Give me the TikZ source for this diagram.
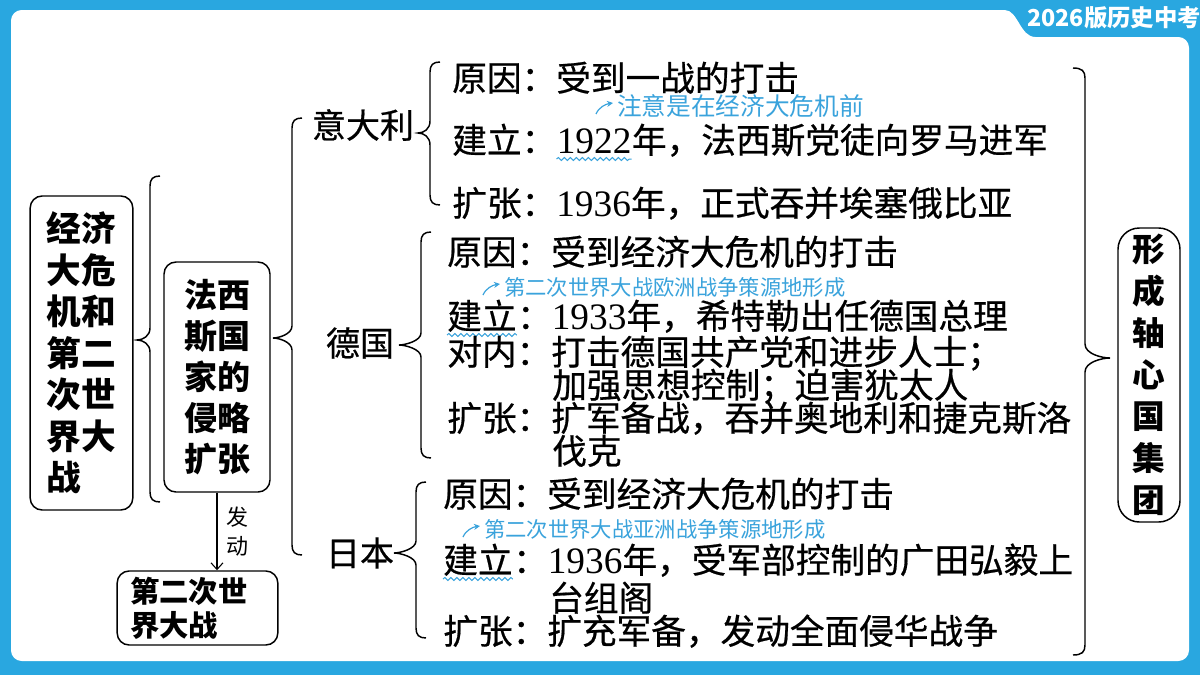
\documentclass[tikz,border=0pt]{standalone}
\usepackage{fontspec}
\usepackage{tikz}
\usetikzlibrary{calc,arrows.meta,decorations.pathmorphing}
\setmainfont{Noto Sans CJK SC}
\newfontfamily\zwfont{Noto Sans CJK SC}[FakeBold=0.6]
\newfontfamily\szfont{Liberation Serif}
\newcommand\yr[1]{{\szfont\fontsize{28pt}{26pt}\selectfont #1}}
\definecolor{lanse}{HTML}{29A7E0}
\definecolor{bizi}{HTML}{3AA3DC}

\tikzset{
  kuang/.style={draw, line width=1.1pt, rounded corners=9pt, inner sep=0pt, align=left},
  kuohao/.style={draw, line width=1.1pt},
  item/.style={anchor=base west, inner sep=0pt, font=\zwfont\fontsize{26pt}{26pt}\selectfont},
  guo/.style={inner sep=0pt, font=\zwfont\fontsize{25.5pt}{26pt}\selectfont},
  pizhu/.style={anchor=west, inner sep=0pt, text=bizi},
  gou/.style={bizi, line width=0.9pt, -{Stealth[length=4.5pt,width=4.5pt]}},
  bolang/.style={bizi, line width=0.75pt, decorate, decoration={snake, amplitude=1.1pt, segment length=4.5pt}},
}

% left brace: x, top, bottom, tip x, tip y
\newcommand\zkh[5]{\draw[kuohao] (#1+10,#2) .. controls (#1+3,#2) and (#1,#2+3) .. (#1,#2+10)
  -- (#1,#5-12) .. controls (#1,#5-4) and (#4+6,#5) .. (#4,#5)
  .. controls (#4+6,#5) and (#1,#5+4) .. (#1,#5+12)
  -- (#1,#3-10) .. controls (#1,#3-3) and (#1+3,#3) .. (#1+10,#3);}
% right brace
\newcommand\ykh[5]{\draw[kuohao] (#1-12,#2) .. controls (#1-3,#2) and (#1,#2+3) .. (#1,#2+10)
  -- (#1,#5-14) .. controls (#1,#5-4) and (#4-8,#5) .. (#4,#5)
  .. controls (#4-8,#5) and (#1,#5+4) .. (#1,#5+14)
  -- (#1,#3-10) .. controls (#1,#3-3) and (#1-3,#3) .. (#1-12,#3);}
% hook arrow before a note
\newcommand\gou[1]{\draw[gou] ($(#1.west)+(-21,8)$) .. controls +(3,-7) and +(-7,1) .. ($(#1.west)+(-4,-3)$);}

\begin{document}
\begin{tikzpicture}[x=0.75pt,y=-0.75pt,>={Straight Barb[length=5pt,width=9pt]}]
  \useasboundingbox (0,0) rectangle (1200,675);
  \fill[lanse] (0,0) rectangle (1200,675);
  \fill[white, rounded corners=8pt] (11,10) -- (994,10) .. controls (1018,10) and (1020,37) .. (1046,37)
    -- (1189,37) -- (1189,661) -- (11,661) -- cycle;
  \node[text=white, inner sep=0pt, font=\bfseries\fontsize{17.5pt}{17pt}\selectfont] (ban) at (1114,18) {2026版历史中考};

  % boxes
  \node[kuang, minimum width=77pt, minimum height=235.5pt, font=\bfseries\fontsize{26pt}{31.1pt}\selectfont] (jjwj) at (81.5,353)
    {经济\\大危\\机和\\第二\\次世\\界大\\战};
  \node[kuang, minimum width=79.5pt, minimum height=172.5pt, font=\bfseries\fontsize{24.75pt}{30.75pt}\selectfont] (fxs) at (217,377)
    {法西\\斯国\\家的\\侵略\\扩张};
  \node[kuang, rounded corners=16pt, minimum width=46.5pt, minimum height=220.5pt, font=\bfseries\fontsize{24.5pt}{31.3pt}\selectfont] (zxg) at (1149,375)
    {形\\成\\轴\\心\\国\\集\\团};
  \node[kuang, text width=101pt, inner xsep=9.75pt, minimum height=55.5pt, font=\bfseries\fontsize{22pt}{25.5pt}\selectfont] (ww2) at (197.5,608)
    {第二次世\\界大战};
  \draw[->, line width=0.8pt] (fxs.south) -- (fxs.south |- ww2.north)
    node[midway, right=7pt, inner sep=0pt, align=center, font=\fontsize{16.5pt}{21.75pt}\selectfont] (fd) {发\\动};

  % countries
  \node[guo] (yi) at (363,125) {意大利};
  \node[guo] (de) at (360,343) {德国};
  \node[guo] (ri) at (360,553) {日本};

  % Italy
  \node[item] (yi-yy) at (452,91) {原因：受到一战的打击};
  \node[item] (yi-jl) at (452,153) {建立：};
  \node[item] (yi-jl-n) at (yi-jl.base east) {\yr{1922}};
  \node[item] (yi-jl-t) at (yi-jl-n.base east) {年，法西斯党徒向罗马进军};
  \node[item] (yi-kz) at (452,216) {扩张：\yr{1936}年，正式吞并埃塞俄比亚};
  \node[pizhu, font=\fontsize{18.5pt}{18.5pt}\selectfont] (yi-pz) at (617,106) {注意是在经济大危机前};
  \gou{yi-pz}
  \draw[bolang] ([yshift=-4.5pt]yi-jl-n.base west) -- ([yshift=-4.5pt]yi-jl-n.base east);

  % Germany
  \node[item] (de-yy) at (447,265) {原因：受到经济大危机的打击};
  \node[pizhu, font=\fontsize{16pt}{16pt}\selectfont] (de-pz) at (504,287) {第二次世界大战欧洲战争策源地形成};
  \gou{de-pz}
  \node[item] (de-jl) at (447,329) {建立};
  \node[item] (de-jl-t) at (de-jl.base east) {：\yr{1933}年，希特勒出任德国总理};
  \draw[bolang] ([yshift=-4.5pt]de-jl.base west) -- ([yshift=-4.5pt]de-jl.base east);
  \node[item] (de-dn) at (447,365) {对内：打击德国共产党和进步人士；};
  \node[item] (de-dn2) at (552,398) {加强思想控制；迫害犹太人};
  \node[item] (de-kz) at (447,431) {扩张：扩军备战，吞并奥地利和捷克斯洛};
  \node[item] (de-kz2) at (552,464) {伐克};

  % Japan
  \node[item] (ri-yy) at (443,507) {原因：受到经济大危机的打击};
  \node[pizhu, font=\fontsize{16pt}{16pt}\selectfont] (ri-pz) at (484,529) {第二次世界大战亚洲战争策源地形成};
  \gou{ri-pz}
  \node[item] (ri-jl) at (443,573) {建立};
  \node[item] (ri-jl-t) at (ri-jl.base east) {：\yr{1936}年，受军部控制的广田弘毅上};
  \draw[bolang] ([yshift=-4.5pt]ri-jl.base west) -- ([yshift=-4.5pt]ri-jl.base east);
  \node[item] (ri-jl2) at (549,611) {台组阁};
  \node[item] (ri-kz) at (443,644) {扩张：扩充军备，发动全面侵华战争};

  % braces
  \zkh{150}{176}{502}{137}{340}     %jjwj
  \zkh{292}{118}{555}{273}{338}     %fxs
  \zkh{430}{62}{205}{418}{133}      %yi
  \zkh{421}{232}{458}{399}{345}     %de
  \zkh{416}{482}{638}{394}{553}     %ri
  \ykh{1085}{68}{655}{1110}{358}    %zxg
\end{tikzpicture}
\end{document}
